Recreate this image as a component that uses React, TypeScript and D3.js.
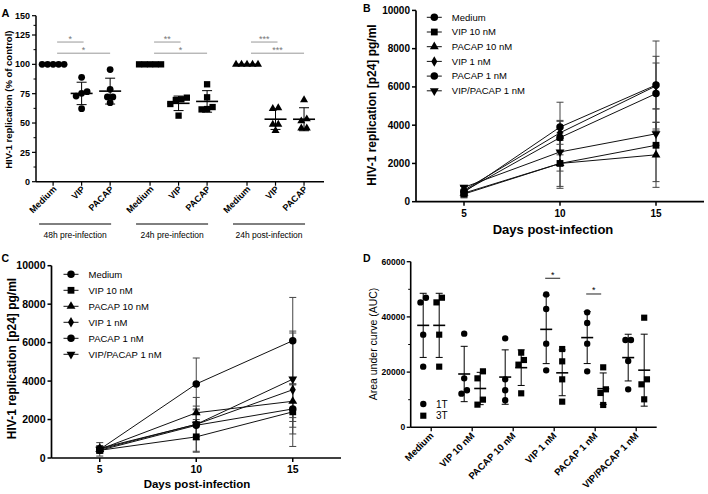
import React from "react";
import * as d3 from "d3";

const FONT = "'Liberation Sans', Arial, Helvetica, sans-serif";

// ---------------- Panel A data ----------------
const groupsA = ["48h pre-infection", "24h pre-infection", "24h post-infection"];
const treatmentsA = ["Medium", "VIP", "PACAP"];
const a48Medium = [100, 100, 100, 100, 100];
const a48VIP = [88.9, 75.3, 73.0, 76.7, 62.2];
const a48PACAP = [95.5, 78.7, 72.2, 72.2, 67.3];
const a24preMedium = [100, 100, 100, 100, 100];
const a24preVIP = [71.6, 69.6, 66.2, 70.2, 56.3];
const a24prePACAP = [83.0, 71.9, 63.6, 61.6, 61.9];
const a24postMedium = [100, 100, 100, 100, 100];
const a24postVIP = [62.2, 62.8, 48.9, 48.9, 43.5];
const a24postPACAP = [69.6, 51.7, 53.4, 45.7, 45.7];
const sigLabelsA = [["*", "*"], ["**", "*"], ["***", "***"]];
const sigLevelsA = [119, 109.5];
const yTicksA = [0, 25, 50, 75, 100, 125, 150];
const yMinorA = [12.5, 37.5, 62.5, 87.5, 112.5, 137.5];

// ---------------- Panels B & C data ----------------
const days = [5, 10, 15];
const seriesNames = ["Medium", "VIP 10 nM", "PACAP 10 nM", "VIP 1 nM", "PACAP 1 nM", "VIP/PACAP 1 nM"];
const yTicksBC = [0, 2000, 4000, 6000, 8000, 10000];

const bMedium = [500, 3900, 6100];
const bVIP10 = [400, 2000, 2950];
const bPACAP10 = [450, 2000, 2450];
const bVIP1 = [600, 3600, 6050];
const bPACAP1 = [550, 3350, 5650];
const bVIPPACAP1 = [750, 2600, 3550];
const bMediumSD = [300, 1300, 2300];
const bVIP10SD = [150, 1200, 1900];
const bPACAP10SD = [150, 1300, 1700];
const bVIP1SD = [200, 600, 1200];
const bPACAP1SD = [250, 900, 1950];
const bVIPPACAP1SD = [100, 1000, 600];

const cMedium = [450, 3850, 6100];
const cVIP10 = [400, 1100, 2400];
const cPACAP10 = [450, 2350, 2950];
const cVIP1 = [500, 1750, 3550];
const cPACAP1 = [400, 1700, 2550];
const cVIPPACAP1 = [450, 1750, 4100];
const cMediumSD = [350, 1350, 2250];
const cVIP10SD = [150, 800, 500];
const cPACAP10SD = [150, 350, 850];
const cVIP1SD = [150, 1400, 2950];
const cPACAP1SD = [150, 600, 1300];
const cVIPPACAP1SD = [150, 800, 2500];

// ---------------- Panel D data ----------------
const categoriesD = ["Medium", "VIP 10 nM", "PACAP 10 nM", "VIP 1 nM", "PACAP 1 nM", "VIP/PACAP 1 nM"];
const d1T = [
  [45260, 46950, 33560, 21970],
  [33920, 17740, 12190, 13400],
  [32230, 17380, 13400, 9780],
  [48160, 42850, 30300, 20640],
  [41640, 37780, 30300, 20280],
  [31620, 31620, 24020, 13760],
];
const d3T = [
  [45260, 46950, 33560, 21970],
  [20280, 17740, 8210, 10020],
  [27040, 24380, 22700, 12310],
  [28360, 23900, 17380, 9290],
  [21730, 13760, 12430, 8090],
  [39710, 17380, 15570, 10140],
];
const sigD = [
  { cat: 3, value: 54000, label: "*" },
  { cat: 4, value: 48300, label: "*" },
];
const yTicksD = [0, 20000, 40000, 60000];
const yMinorD = [10000, 30000, 50000];

// ---------------- helpers ----------------
const sym = (type: any, size: number) => d3.symbol().type(type).size(size)() as string;

function rowOffsets(vals: number[], y: (v: number) => number, thresh: number, step: number) {
  const idx = vals.map((_, i) => i).sort((a, b) => vals[a] - vals[b]);
  const off = new Array(vals.length).fill(0);
  let cluster: number[] = [];
  const flush = () => {
    const n = cluster.length;
    cluster.forEach((k, j) => (off[k] = (j - (n - 1) / 2) * step));
    cluster = [];
  };
  idx.forEach((k, j) => {
    if (j > 0 && Math.abs(y(vals[k]) - y(vals[idx[j - 1]])) >= thresh) flush();
    cluster.push(k);
  });
  flush();
  return off;
}

function MarkerShape({ kind, x, y, scale = 1 }: { kind: number; x: number; y: number; scale?: number }) {
  const defs: [any, number, number][] = [
    [d3.symbolCircle, 44, 0],
    [d3.symbolSquare, 46, 0],
    [d3.symbolTriangle, 34, 0],
    [d3.symbolDiamond, 32, 0],
    [d3.symbolCircle, 44, 0],
    [d3.symbolTriangle, 34, 180],
  ];
  const [t, s, r] = defs[kind];
  return <path d={sym(t, s * scale)} transform={`translate(${x},${y}) rotate(${r})`} fill="#000" />;
}

// ---------------- Panel A ----------------
function PanelA() {
  const x = d3.scaleLinear().domain([-0.6, 9.5]).range([36, 324]);
  const y = d3.scaleLinear().domain([0, 125, 150]).range([181.7, 35, 15.7]);
  const gap = 3.4;
  const pos = (g: number, t: number) => x(g * gap + t);
  const data = [
    [a48Medium, a48VIP, a48PACAP],
    [a24preMedium, a24preVIP, a24prePACAP],
    [a24postMedium, a24postVIP, a24postPACAP],
  ];
  const shapes = [
    sym(d3.symbolCircle, 36),
    sym(d3.symbolSquare, 40),
    sym(d3.symbolTriangle, 28),
  ];
  const y0 = y(0);
  return (
    <g fontFamily={FONT}>
      <text x={1.5} y={17} fontSize={11} fontWeight="bold">A</text>
      <text transform={`translate(11.5,${(y(0) + y(150)) / 2 + 1}) rotate(-90)`} textAnchor="middle" fontSize={9.5} fontWeight="bold">
        HIV-1 replication (% of control)
      </text>
      {/* axes */}
      <line x1={36} x2={36} y1={y(150)} y2={y0} stroke="#000" strokeWidth={1.5} />
      <line x1={36} x2={324} y1={y0} y2={y0} stroke="#000" strokeWidth={1.5} />
      {yTicksA.map((t) => (
        <g key={t}>
          <line x1={32} x2={36} y1={y(t)} y2={y(t)} stroke="#000" strokeWidth={1.2} />
          <text x={30} y={y(t)} dy="0.35em" textAnchor="end" fontSize={9} fontWeight="bold">{t}</text>
        </g>
      ))}
      {yMinorA.map((t) => (
        <line key={t} x1={33.5} x2={36} y1={y(t)} y2={y(t)} stroke="#000" strokeWidth={1} />
      ))}
      {groupsA.map((gname, g) => {
        const xs = pos(g, 0) - 14;
        const xe = pos(g, 2) + 1;
        return (
          <g key={gname}>
            {treatmentsA.map((tn, t) => (
              <g key={tn}>
                <line x1={pos(g, t)} x2={pos(g, t)} y1={y0} y2={y0 + 4} stroke="#000" strokeWidth={1.2} />
                <text transform={`translate(${pos(g, t) + 4},${y0 + 8}) rotate(-45)`} textAnchor="end" fontSize={9} fontWeight="bold">
                  {tn}
                </text>
              </g>
            ))}
            <line x1={xs} x2={xe} y1={224} y2={224} stroke="#000" strokeWidth={1} />
            <text x={(xs + xe) / 2} y={237.5} textAnchor="middle" fontSize={8.5}>{gname}</text>
            {/* significance */}
            {[1, 2].map((t, k) => {
              const ly = y(sigLevelsA[k]);
              const x1 = pos(g, 0) + 4;
              const x2 = pos(g, t) + (t === 1 ? 2 : 0);
              return (
                <g key={t}>
                  <line x1={x1} x2={x2} y1={ly} y2={ly} stroke="#999" strokeWidth={1} />
                  <text x={(x1 + x2) / 2} y={ly - 0.5} textAnchor="middle" fontSize={9} fill="#777">{sigLabelsA[g][k]}</text>
                </g>
              );
            })}
            {/* points */}
            {data[g].map((vals, t) => {
              const cx = pos(g, t);
              const offs = rowOffsets(vals, y, 5.5, 5.5);
              const m = d3.mean(vals) as number;
              const sd = (d3.deviation(vals) as number) || 0;
              return (
                <g key={t}>
                  {sd > 0 && (
                    <g stroke="#000" strokeWidth={1}>
                      <line x1={cx} x2={cx} y1={y(m + sd)} y2={y(m - sd)} />
                      <line x1={cx - 5} x2={cx + 5} y1={y(m + sd)} y2={y(m + sd)} />
                      <line x1={cx - 5} x2={cx + 5} y1={y(m - sd)} y2={y(m - sd)} />
                    </g>
                  )}
                  {vals.map((v, i) => (
                    <path key={i} d={shapes[g]} transform={`translate(${cx + offs[i]},${y(v)})`} fill="#000" />
                  ))}
                  <line x1={cx - 11} x2={cx + 11} y1={y(m)} y2={y(m)} stroke="#000" strokeWidth={1.6} />
                </g>
              );
            })}
          </g>
        );
      })}
    </g>
  );
}

// ---------------- Panels B / C ----------------
type LineProps = {
  label: string;
  means: number[][];
  sds: number[][];
  xRange: [number, number];
  yRange: [number, number];
  labelPos: [number, number];
  yTitle: [number, number];
  xTitle: [number, number, number];
  tickLabelY: number;
  tickFont: number;
  legend: [number, number, number];
};

function LinePanel(p: LineProps) {
  const x = d3.scaleLinear().domain([2.5, 17.5]).range(p.xRange);
  const y = d3.scaleLinear().domain([0, 10000]).range(p.yRange);
  const ax = p.xRange[0];
  const y0 = y(0);
  const line = d3.line<number>().x((_, i) => x(days[i])).y((d) => d);
  const [lx, ly, lstep] = p.legend;
  return (
    <g fontFamily={FONT}>
      <text x={p.labelPos[0]} y={p.labelPos[1]} fontSize={10.5} fontWeight="bold">{p.label}</text>
      <text transform={`translate(${p.yTitle[0]},${p.yTitle[1]}) rotate(-90)`} textAnchor="middle" fontSize={12} fontWeight="bold">
        HIV-1 replication [p24] pg/ml
      </text>
      <text x={p.xTitle[0]} y={p.xTitle[1]} textAnchor="middle" fontSize={p.xTitle[2]} fontWeight="bold">Days post-infection</text>
      <line x1={ax} x2={ax} y1={y(10000)} y2={y0} stroke="#000" strokeWidth={1.7} />
      <line x1={ax} x2={p.xRange[1]} y1={y0} y2={y0} stroke="#000" strokeWidth={1.7} />
      {yTicksBC.map((t) => (
        <g key={t}>
          <line x1={ax - 4} x2={ax} y1={y(t)} y2={y(t)} stroke="#000" strokeWidth={1.5} />
          <text x={ax - 6} y={y(t)} dy="0.35em" textAnchor="end" fontSize={p.tickFont} fontWeight="bold">{t}</text>
        </g>
      ))}
      {days.map((d) => (
        <g key={d}>
          <line x1={x(d)} x2={x(d)} y1={y0} y2={y0 + 4} stroke="#000" strokeWidth={1.5} />
          <text x={x(d)} y={p.tickLabelY} textAnchor="middle" fontSize={p.tickFont} fontWeight="bold">{d}</text>
        </g>
      ))}
      {/* error bars */}
      {p.means.map((ms, s) => (
        <g key={"e" + s} stroke="#444" strokeWidth={1}>
          {ms.map((m, i) => {
            const cx = x(days[i]);
            const t = y(m + p.sds[s][i]);
            const b = y(Math.max(0, m - p.sds[s][i]));
            return (
              <g key={i}>
                <line x1={cx} x2={cx} y1={t} y2={b} />
                <line x1={cx - 3.5} x2={cx + 3.5} y1={t} y2={t} />
                <line x1={cx - 3.5} x2={cx + 3.5} y1={b} y2={b} />
              </g>
            );
          })}
        </g>
      ))}
      {p.means.map((ms, s) => (
        <path key={"l" + s} d={line(ms.map((m) => y(m))) as string} fill="none" stroke="#111" strokeWidth={1} />
      ))}
      {p.means.map((ms, s) => (
        <g key={"m" + s}>
          {ms.map((m, i) => (
            <MarkerShape key={i} kind={s} x={x(days[i])} y={y(m)} />
          ))}
        </g>
      ))}
      {/* legend */}
      {seriesNames.map((n, s) => (
        <g key={n}>
          <line x1={lx - 7.5} x2={lx + 7.5} y1={ly + s * lstep} y2={ly + s * lstep} stroke="#111" strokeWidth={1} />
          <MarkerShape kind={s} x={lx} y={ly + s * lstep} />
          <text x={lx + 17.5} y={ly + s * lstep} dy="0.35em" fontSize={9.5}>{n}</text>
        </g>
      ))}
    </g>
  );
}

// ---------------- Panel D ----------------
function PanelD() {
  const xb = d3.scaleBand<string>().domain(categoriesD).range([410.7, 656.7]);
  const xc = (c: string) => (xb(c) as number) + xb.bandwidth() / 2;
  const y = d3.scaleLinear().domain([0, 60000]).range([427.3, 261.7]);
  const ax = 410.7;
  const y0 = y(0);
  const circ = sym(d3.symbolCircle, 32);
  const sq = sym(d3.symbolSquare, 38);
  const colOff = 8;
  const drawCol = (vals: number[], cx: number, shape: string, key: string) => {
    const m = d3.mean(vals) as number;
    const sd = d3.deviation(vals) as number;
    const offs = rowOffsets(vals, y, 7.1, 5.5);
    return (
      <g key={key}>
        <g stroke="#000" strokeWidth={1}>
          <line x1={cx} x2={cx} y1={y(m + sd)} y2={y(m - sd)} />
          <line x1={cx - 3.5} x2={cx + 3.5} y1={y(m + sd)} y2={y(m + sd)} />
          <line x1={cx - 3.5} x2={cx + 3.5} y1={y(m - sd)} y2={y(m - sd)} />
        </g>
        {vals.map((v, i) => (
          <path key={i} d={shape} transform={`translate(${cx + offs[i]},${y(v)})`} fill="#000" />
        ))}
        <line x1={cx - 6} x2={cx + 6} y1={y(m)} y2={y(m)} stroke="#000" strokeWidth={1.6} />
      </g>
    );
  };
  return (
    <g fontFamily={FONT}>
      <text x={363} y={261.7} fontSize={10.5} fontWeight="bold">D</text>
      <text transform={`translate(376.5,344) rotate(-90)`} textAnchor="middle" fontSize={10.5}>Area under curve (AUC)</text>
      <line x1={ax} x2={ax} y1={y(60000)} y2={y0} stroke="#000" strokeWidth={1.6} />
      <line x1={ax} x2={656.7} y1={y0} y2={y0} stroke="#000" strokeWidth={1.6} />
      {yTicksD.map((t) => (
        <g key={t}>
          <line x1={ax - 4} x2={ax} y1={y(t)} y2={y(t)} stroke="#000" strokeWidth={1.3} />
          <text x={ax - 5.5} y={y(t)} dy="0.35em" textAnchor="end" fontSize={8.5} fontWeight="bold">{t}</text>
        </g>
      ))}
      {yMinorD.map((t) => (
        <line key={t} x1={ax - 2.5} x2={ax} y1={y(t)} y2={y(t)} stroke="#000" strokeWidth={1} />
      ))}
      {categoriesD.map((c, k) => (
        <g key={c}>
          <line x1={xc(c)} x2={xc(c)} y1={y0} y2={y0 + 4} stroke="#000" strokeWidth={1.3} />
          <text transform={`translate(${xc(c) + 3},${y0 + 9}) rotate(-45)`} textAnchor="end" fontSize={9.5} fontWeight="bold">{c}</text>
          {drawCol(d1T[k], xc(c) - colOff, circ, "a")}
          {drawCol(d3T[k], xc(c) + colOff, sq, "b")}
        </g>
      ))}
      {sigD.map((s) => {
        const c = categoriesD[s.cat];
        const x1 = xc(c) - colOff - 1;
        const x2 = xc(c) + colOff - 2;
        return (
          <g key={c}>
            <line x1={x1} x2={x2} y1={y(s.value)} y2={y(s.value)} stroke="#222" strokeWidth={1} />
            <text x={(x1 + x2) / 2} y={y(s.value) - 0.5} textAnchor="middle" fontSize={9}>{s.label}</text>
          </g>
        );
      })}
      <path d={circ} transform="translate(423.3,404)" fill="#000" />
      <text x={436} y={404} dy="0.35em" fontSize={10}>1T</text>
      <path d={sq} transform="translate(423.3,415.7)" fill="#000" />
      <text x={436} y={415.7} dy="0.35em" fontSize={10}>3T</text>
    </g>
  );
}

export default function App() {
  return (
    <svg width={708} height={494} viewBox="0 0 708 494" style={{ position: "absolute", left: 0, top: 0, background: "#fff" }}>
      <rect width={708} height={494} fill="#fff" />
      <PanelA />
      <LinePanel
        label="B"
        means={[bMedium, bVIP10, bPACAP10, bVIP1, bPACAP1, bVIPPACAP1]}
        sds={[bMediumSD, bVIP10SD, bPACAP10SD, bVIP1SD, bPACAP1SD, bVIPPACAP1SD]}
        xRange={[416, 704]}
        yRange={[201.7, 10.4]}
        labelPos={[363, 12]}
        yTitle={[376, 105]}
        xTitle={[553, 234, 13]}
        tickLabelY={216.7}
        tickFont={10}
        legend={[434.3, 17.3, 14.7]}
      />
      <LinePanel
        label="C"
        means={[cMedium, cVIP10, cPACAP10, cVIP1, cPACAP1, cVIPPACAP1]}
        sds={[cMediumSD, cVIP10SD, cPACAP10SD, cVIP1SD, cPACAP1SD, cVIPPACAP1SD]}
        xRange={[51.5, 341]}
        yRange={[458, 265.7]}
        labelPos={[1.5, 261.7]}
        yTitle={[16, 358.5]}
        xTitle={[197, 488, 11.5]}
        tickLabelY={472.7}
        tickFont={10.5}
        legend={[71, 274.3, 16]}
      />
      <PanelD />
    </svg>
  );
}
